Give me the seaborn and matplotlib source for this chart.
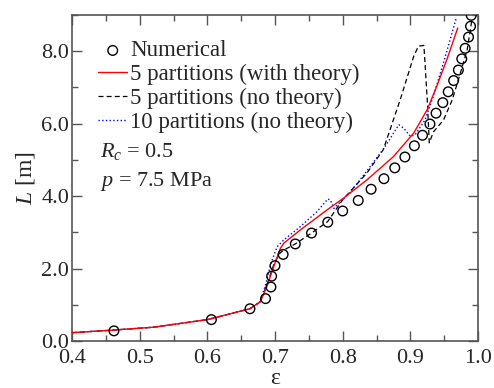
import matplotlib
matplotlib.use("Agg")
import matplotlib.pyplot as plt
import seaborn as sns
import pandas as pd
from matplotlib.ticker import MultipleLocator, FormatStrFormatter

# Data
num_eps = [0.462, 0.606, 0.663, 0.686, 0.694, 0.695, 0.700, 0.712, 0.730, 0.754, 0.778,
           0.800, 0.823, 0.842, 0.861, 0.877, 0.892, 0.906, 0.918, 0.929, 0.938, 0.948,
           0.956, 0.964, 0.971, 0.976, 0.981, 0.986, 0.989, 0.990]
num_L = [0.28, 0.59, 0.89, 1.17, 1.49, 1.79, 2.08, 2.39, 2.68, 2.98, 3.28,
         3.59, 3.88, 4.19, 4.48, 4.78, 5.08, 5.39, 5.68, 5.99, 6.29, 6.58,
         6.88, 7.19, 7.48, 7.79, 8.08, 8.39, 8.69, 8.99]

red_eps = [0.40, 0.46, 0.52, 0.60, 0.663, 0.678, 0.688, 0.698, 0.708, 0.713, 0.737, 0.777,
           0.801, 0.836, 0.875, 0.905, 0.925, 0.939, 0.954, 0.970]
red_L = [0.23, 0.30, 0.38, 0.59, 0.89, 1.08, 1.50, 2.05, 2.56, 2.70, 3.06, 3.62,
         3.94, 4.45, 5.09, 5.74, 6.39, 7.03, 7.77, 8.64]

blk_eps = [0.40, 0.46, 0.52, 0.60, 0.663, 0.678, 0.688, 0.698, 0.706, 0.712, 0.730, 0.754,
           0.778, 0.800, 0.836, 0.860, 0.885, 0.905, 0.912, 0.920, 0.922, 0.925, 0.928,
           0.934, 0.949, 0.962, 0.974, 0.984, 0.991]
blk_L = [0.23, 0.30, 0.38, 0.59, 0.89, 1.08, 1.55, 2.10, 2.40, 2.50, 2.68, 2.98,
         3.30, 3.90, 4.64, 5.28, 6.66, 7.86, 8.14, 8.16, 7.58, 6.66, 5.47,
         5.77, 6.10, 6.66, 7.40, 8.04, 8.87]

blu_eps = [0.40, 0.46, 0.52, 0.60, 0.663, 0.678, 0.686, 0.694, 0.703, 0.713, 0.737, 0.762,
           0.778, 0.782, 0.787, 0.811, 0.836, 0.861, 0.883, 0.890, 0.900, 0.907, 0.922,
           0.934, 0.949, 0.968]
blu_L = [0.23, 0.30, 0.38, 0.59, 0.89, 1.08, 1.55, 2.14, 2.60, 2.79, 3.15, 3.57,
         3.92, 3.89, 3.66, 4.10, 4.70, 5.32, 5.97, 5.88, 5.65, 5.69, 6.11,
         6.76, 7.68, 8.92]

sns.set_theme(style="white")
plt.rcParams['font.family'] = ['Liberation Serif', 'DejaVu Serif']
plt.rcParams['mathtext.fontset'] = 'custom'
plt.rcParams['mathtext.it'] = 'Liberation Serif:italic'
plt.rcParams['mathtext.rm'] = 'Liberation Serif'

fig = plt.figure(figsize=(4.94, 3.88), dpi=100)
ax = fig.add_axes([72/494, 1-341/388, (478-72)/494, (341-15)/388])

sns.lineplot(x=red_eps, y=red_L, ax=ax, color='red', lw=1.0, sort=False,
             label='5 partitions (with theory)', zorder=3)
sns.lineplot(x=blk_eps, y=blk_L, ax=ax, color='black', lw=0.9, sort=False,
             label='5 partitions (no theory)', zorder=2)
ax.lines[-1].set_dashes([4, 2.5])
sns.lineplot(x=blu_eps, y=blu_L, ax=ax, color='blue', lw=1.0, sort=False,
             label='10 partitions (no theory)', zorder=2)
ax.lines[-1].set_linestyle(':')
sns.scatterplot(x=num_eps, y=num_L, ax=ax, marker='o', s=48, facecolor='none',
                edgecolor='black', linewidth=1.0, label='Numerical', zorder=4)

ax.set_xlim(0.4, 1.0)
ax.set_ylim(0, 9)
ax.xaxis.set_major_locator(MultipleLocator(0.1))
ax.xaxis.set_minor_locator(MultipleLocator(0.05))
ax.yaxis.set_major_locator(MultipleLocator(2.0))
ax.yaxis.set_minor_locator(MultipleLocator(1.0))
ax.xaxis.set_major_formatter(FormatStrFormatter('%.1f'))
ax.yaxis.set_major_formatter(FormatStrFormatter('%.1f'))
ax.tick_params(which='both', direction='in', top=True, right=True, color='#555555',
               labelsize=16, bottom=True, left=True)
ax.tick_params(which='major', length=7, width=1)
ax.tick_params(which='minor', length=4, width=1)
ax.tick_params(axis='x', pad=6)
ax.tick_params(axis='y', pad=2)
for s in ax.spines.values():
    s.set_color('#555555')
    s.set_linewidth(1.2)

ax.set_xlabel('ε', fontsize=17, labelpad=0)
ax.set_ylabel('$L$ [m]', fontsize=17, labelpad=3)

h, l = ax.get_legend_handles_labels()
order = [3, 0, 1, 2]
leg = ax.legend([h[i] for i in order], [l[i] for i in order], loc='upper left',
                bbox_to_anchor=(0.065, 0.922), frameon=False, fontsize=16.5,
                handlelength=1.25, handletextpad=0.15, labelspacing=0.11,
                borderaxespad=0, borderpad=0)

ax.text(0.07, 0.58, '$R_c$ = 0.5', transform=ax.transAxes, fontsize=16, va='center')
ax.text(0.07, 0.49, '$p$ = 7.5 MPa', transform=ax.transAxes, fontsize=16, va='center')

fig.savefig('out.png', dpi=100)
